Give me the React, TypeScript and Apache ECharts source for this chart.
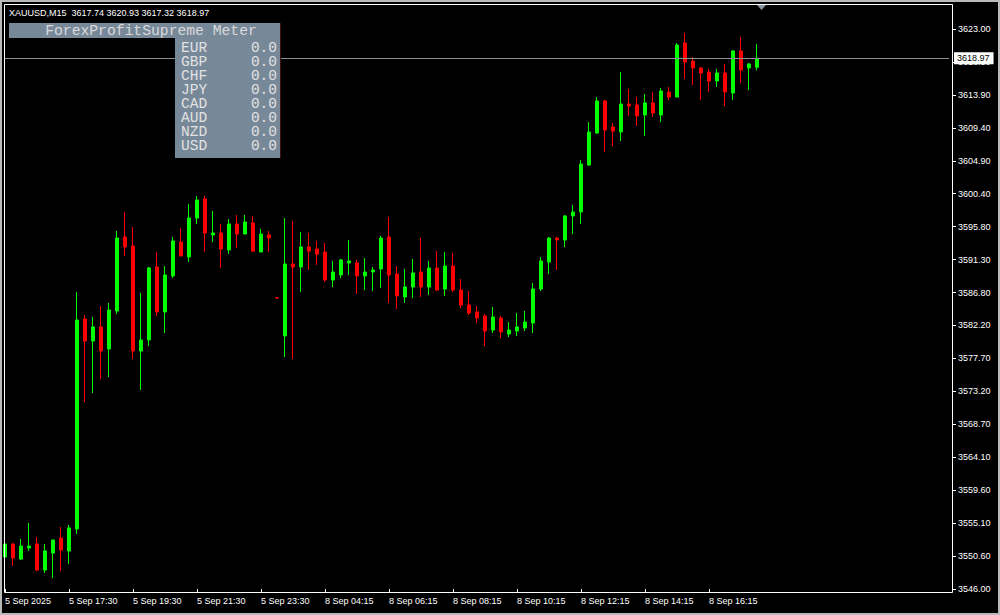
import React, { useEffect, useRef } from 'react';
import * as echarts from 'echarts';

// ---------------- data ----------------
const symbolTitle = 'XAUUSD,M15';

const opens = [
  3550.40, 3552.19, 3550.12, 3551.64, 3552.19, 3548.61, 3550.95, 3553.01, 3551.23, 3554.25,
  3583.13, 3580.10, 3582.03, 3579.00, 3584.23, 3594.40, 3593.16, 3578.73, 3580.24, 3590.28,
  3584.09, 3589.04, 3593.71, 3591.65, 3597.01, 3599.63, 3594.68, 3594.95, 3592.61, 3596.19,
  3594.81, 3596.33, 3592.34, 3594.68, 3586.05, 3580.79, 3590.69, 3590.28, 3593.03, 3592.75,
  3592.34, 3588.49, 3589.18, 3590.83, 3590.83, 3589.04, 3589.59, 3590.00, 3594.40, 3589.31,
  3586.15, 3587.53, 3589.59, 3587.53, 3590.14, 3587.25, 3590.41, 3587.11, 3585.05, 3584.09,
  3583.54, 3581.61, 3583.26, 3581.06, 3581.48, 3581.89, 3582.58, 3587.25, 3590.96, 3594.26,
  3593.99, 3597.29, 3597.84, 3604.30, 3608.70, 3613.10, 3609.53, 3608.84, 3612.69, 3612.55,
  3611.18, 3612.83, 3611.18, 3614.34, 3613.65, 3621.07, 3618.59, 3617.64, 3617.09, 3615.85,
  3616.95, 3614.20, 3619.98, 3617.64, 3617.74,
];

const highs = [
  3552.33, 3552.33, 3552.88, 3555.08, 3553.15, 3552.19, 3552.74, 3554.53, 3554.80, 3586.84,
  3583.68, 3583.40, 3584.91, 3585.33, 3595.23, 3597.84, 3595.78, 3586.70, 3590.28, 3592.34,
  3590.41, 3594.40, 3595.64, 3598.94, 3600.04, 3600.04, 3597.98, 3596.19, 3596.88, 3597.43,
  3597.43, 3597.29, 3595.50, 3595.23, 3586.05, 3597.01, 3596.60, 3595.09, 3594.95, 3593.85,
  3593.58, 3591.10, 3591.37, 3593.99, 3591.24, 3591.51, 3590.28, 3594.54, 3597.15, 3590.41,
  3590.00, 3591.37, 3594.26, 3591.10, 3592.47, 3592.34, 3592.20, 3588.63, 3586.98, 3584.91,
  3583.81, 3584.78, 3583.54, 3582.71, 3583.95, 3584.23, 3588.08, 3591.65, 3594.40, 3594.40,
  3597.43, 3598.80, 3604.99, 3610.21, 3613.65, 3613.24, 3610.08, 3617.09, 3614.75, 3613.65,
  3614.06, 3614.34, 3614.89, 3615.03, 3621.07, 3622.45, 3619.15, 3617.78, 3617.50, 3617.50,
  3618.19, 3620.11, 3621.90, 3618.33, 3620.93,
];

const lows = [
  3549.85, 3549.16, 3549.99, 3551.23, 3548.47, 3548.20, 3547.51, 3548.47, 3549.44, 3553.56,
  3571.71, 3572.95, 3574.88, 3575.15, 3583.81, 3591.79, 3577.63, 3573.36, 3579.41, 3583.54,
  3581.20, 3588.76, 3591.79, 3590.96, 3596.19, 3592.34, 3593.71, 3590.14, 3592.06, 3592.89,
  3594.81, 3592.34, 3592.34, 3592.34, 3586.00, 3577.90, 3577.63, 3586.84, 3589.86, 3590.55,
  3588.21, 3587.53, 3588.76, 3589.18, 3586.56, 3587.11, 3586.98, 3587.39, 3585.33, 3584.50,
  3585.33, 3586.01, 3586.15, 3586.43, 3586.98, 3586.29, 3586.84, 3584.64, 3583.68, 3582.58,
  3579.41, 3581.20, 3580.51, 3580.65, 3580.79, 3581.48, 3581.20, 3586.98, 3589.31, 3589.86,
  3593.03, 3594.81, 3596.19, 3604.16, 3608.56, 3606.09, 3606.91, 3607.60, 3611.04, 3609.66,
  3608.29, 3610.90, 3610.21, 3613.24, 3613.65, 3616.13, 3615.30, 3613.24, 3614.34, 3615.03,
  3612.41, 3613.24, 3615.58, 3614.61, 3617.32,
];

const closes = [
  3552.19, 3550.26, 3551.91, 3551.91, 3548.61, 3551.23, 3552.74, 3551.36, 3554.39, 3582.99,
  3580.10, 3582.03, 3578.73, 3584.36, 3594.26, 3593.03, 3578.73, 3580.24, 3590.14, 3584.09,
  3589.18, 3593.85, 3591.79, 3597.01, 3599.49, 3594.95, 3594.95, 3592.75, 3596.19, 3594.81,
  3596.46, 3592.47, 3594.81, 3594.26, 3586.01, 3590.69, 3590.28, 3593.03, 3592.47, 3592.06,
  3588.49, 3589.59, 3591.24, 3591.10, 3589.04, 3589.59, 3589.86, 3594.26, 3589.18, 3586.29,
  3587.53, 3589.45, 3587.53, 3590.14, 3587.11, 3590.41, 3587.11, 3585.05, 3583.95, 3583.26,
  3581.48, 3583.40, 3581.34, 3581.61, 3582.03, 3582.71, 3587.25, 3591.10, 3594.26, 3593.99,
  3597.29, 3597.84, 3604.44, 3608.84, 3613.10, 3609.11, 3608.97, 3612.69, 3612.41, 3611.04,
  3612.83, 3611.45, 3614.48, 3613.65, 3620.80, 3618.46, 3617.64, 3616.95, 3615.85, 3616.95,
  3614.34, 3619.98, 3617.36, 3618.19, 3618.97,
];

// one tick label every 8 bars (2 hours of M15 bars)
const timeTickLabels = [
  '5 Sep 2025', '5 Sep 17:30', '5 Sep 19:30', '5 Sep 21:30', '5 Sep 23:30', '8 Sep 04:15',
  '8 Sep 06:15', '8 Sep 08:15', '8 Sep 10:15', '8 Sep 12:15', '8 Sep 14:15', '8 Sep 16:15',
];

const priceTickLabels = [
  '3546.00', '3550.60', '3555.10', '3559.60', '3564.10', '3568.70', '3573.20', '3577.70', '3582.20',
  '3586.80', '3591.30', '3595.80', '3600.40', '3604.90', '3609.40', '3613.90', '3618.50', '3623.00',
];

const meterTitle = 'ForexProfitSupreme Meter';
const meterCurrencies = ['EUR', 'GBP', 'CHF', 'JPY', 'CAD', 'AUD', 'NZD', 'USD'];
const meterValues = [0, 0, 0, 0, 0, 0, 0, 0];

// ---------------- settings ----------------
const PRICE_MIN = 3546;
const PRICE_MAX = 3623;
const BAR_SLOTS = 119; // bar slots visible on the time axis (incl. empty right shift)
const TICK_EVERY = 8;
const UP = '#00ff00';
const DOWN = '#ff0000';
const AXIS_FONT = '"Liberation Sans", Arial, sans-serif';
const MONO_FONT = '"Liberation Mono", "Courier New", monospace';
const PANEL = '#778899';

export default function App() {
  const ref = useRef<HTMLDivElement>(null);

  useEffect(() => {
    if (!ref.current) return;
    const chart = echarts.init(ref.current, null, { renderer: 'svg' });

    const slots = Array.from({ length: BAR_SLOTS }, (_, i) => String(i));
    const candles = opens.map((o, i) => [o, closes[i], lows[i], highs[i]]);
    const last = opens.length - 1;
    const lastClose = closes[last];
    const isTimeTick = (i: number) =>
      i % TICK_EVERY === 0 && i / TICK_EVERY < timeTickLabels.length;

    const title = `${symbolTitle}  ${opens[last].toFixed(2)} ${highs[last].toFixed(2)} ${lows[last].toFixed(2)} ${closes[last].toFixed(2)}`;

    const meterRows: any[] = [];
    meterCurrencies.forEach((c, i) => {
      const y = 48 + i * 14;
      meterRows.push({
        type: 'text', z: 21, x: 181, y,
        style: { text: c, fill: '#e2e2e2', font: `14.5px ${MONO_FONT}`, textVerticalAlign: 'middle', verticalAlign: 'middle' },
      });
      meterRows.push({
        type: 'text', z: 21, x: 277, y,
        style: { text: meterValues[i].toFixed(1), fill: '#e2e2e2', font: `14.5px ${MONO_FONT}`, textAlign: 'right', align: 'right', verticalAlign: 'middle' },
      });
    });

    chart.setOption({
      animation: false,
      backgroundColor: '#000000',
      grid: { left: 5, top: 29, width: 944, height: 560, containLabel: false },
      xAxis: {
        type: 'category',
        data: slots,
        boundaryGap: false,
        offset: 3,
        axisLine: { show: false },
        axisTick: {
          show: true,
          length: 4,
          interval: (i: number) => isTimeTick(i),
          lineStyle: { color: '#ffffff', width: 1 },
        },
        axisLabel: {
          interval: (i: number) => isTimeTick(i),
          formatter: (_v: string, i: number) => (isTimeTick(i) ? timeTickLabels[i / TICK_EVERY] : ''),
          color: '#ffffff',
          fontFamily: AXIS_FONT,
          fontSize: 9,
          align: 'left',
          margin: 4,
        },
        splitLine: { show: false },
      },
      yAxis: [
        { type: 'value', min: PRICE_MIN, max: PRICE_MAX, show: false, splitLine: { show: false } },
        {
          type: 'value',
          min: 0,
          max: priceTickLabels.length - 1,
          interval: 1,
          position: 'right',
          offset: 3,
          axisLine: { show: false },
          axisTick: { show: true, length: 4, lineStyle: { color: '#ffffff' } },
          axisLabel: {
            formatter: (v: number) => priceTickLabels[Math.round(v)] ?? '',
            color: '#ffffff',
            fontFamily: AXIS_FONT,
            fontSize: 9,
            margin: 6,
          },
          splitLine: { show: false },
        },
      ],
      series: [
        {
          type: 'candlestick',
          xAxisIndex: 0,
          yAxisIndex: 0,
          data: candles,
          barWidth: 4,
          clip: true,
          itemStyle: {
            color: UP,
            color0: DOWN,
            borderColor: UP,
            borderColor0: DOWN,
            borderWidth: 1,
          },
          markLine: {
            silent: true,
            symbol: ['none', 'none'],
            data: [{ yAxis: lastClose }],
            lineStyle: { color: '#8c9096', type: 'solid', width: 1 },
            label: {
              show: true,
              position: 'end',
              distance: 5,
              formatter: () => lastClose.toFixed(2),
              backgroundColor: '#ffffff',
              color: '#000000',
              fontFamily: AXIS_FONT,
              fontSize: 9,
              padding: [2, 4, 1, 3],
            },
          },
        },
      ],
      graphic: [
        {
          type: 'rect', z: 30, silent: true,
          shape: { x: 1, y: 1, width: 998, height: 613 },
          style: { fill: 'none', stroke: '#b9b9b9', lineWidth: 2 },
        },
        {
          type: 'rect', z: 30, silent: true,
          shape: { x: 4.5, y: 4.5, width: 948, height: 588 },
          style: { fill: 'none', stroke: '#ffffff', lineWidth: 1 },
        },
        {
          type: 'polygon', z: 30, silent: true,
          shape: { points: [[757, 5], [766, 5], [761.5, 10]] },
          style: { fill: '#8a96a4' },
        },
        {
          type: 'text', z: 30, x: 9, y: 13,
          style: { text: title, fill: '#ffffff', font: `9px ${AXIS_FONT}`, verticalAlign: 'middle', textVerticalAlign: 'middle' },
        },
        {
          type: 'rect', z: 20, silent: true,
          shape: { x: 9, y: 23, width: 271, height: 15 },
          style: { fill: PANEL },
        },
        {
          type: 'rect', z: 20, silent: true,
          shape: { x: 175, y: 38, width: 105, height: 120 },
          style: { fill: PANEL },
        },
        {
          type: 'rect', z: 20, silent: true,
          shape: { x: 280, y: 23, width: 1, height: 135 },
          style: { fill: '#3a1010' },
        },
        {
          type: 'text', z: 21, x: 151, y: 30.5,
          style: { text: meterTitle, fill: '#dadada', font: `14.7px ${MONO_FONT}`, align: 'center', textAlign: 'center', verticalAlign: 'middle', textVerticalAlign: 'middle' },
        },
        ...meterRows,
      ],
    });

    return () => chart.dispose();
  }, []);

  return (
    <div
      ref={ref}
      style={{ position: 'fixed', left: 0, top: 0, width: 1000, height: 615, background: '#000' }}
    />
  );
}
